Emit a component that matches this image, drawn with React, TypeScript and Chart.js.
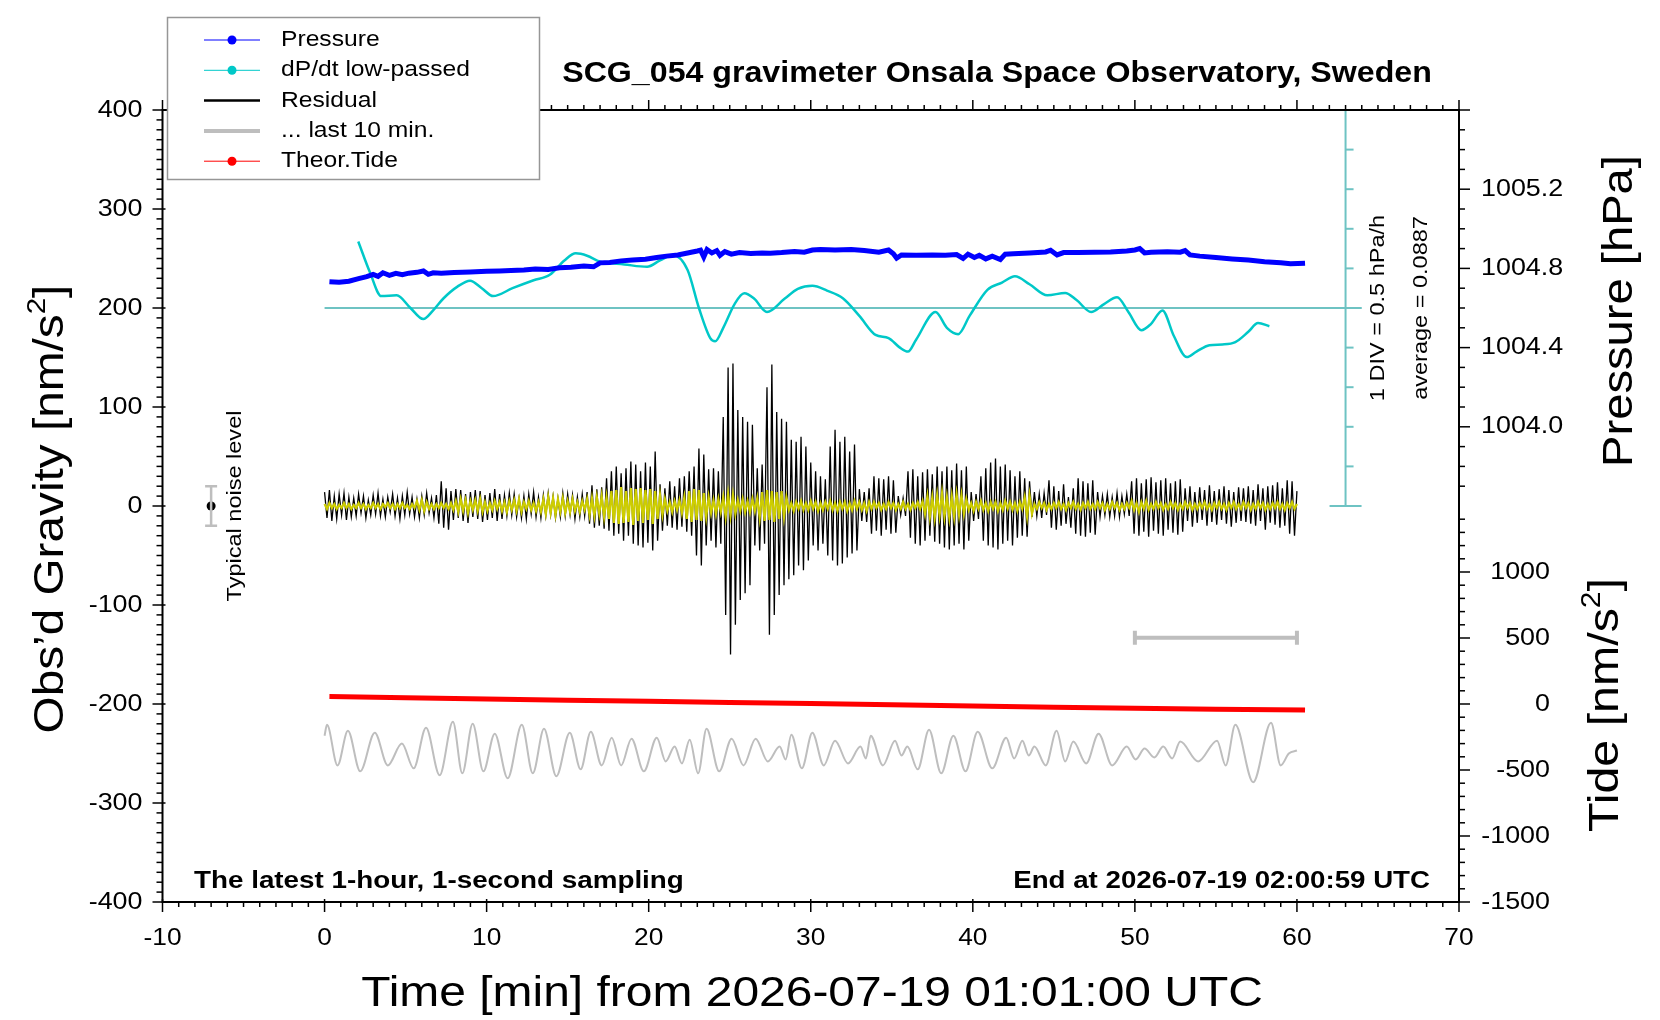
import { useEffect, useRef } from 'react';
import { Chart, registerables } from 'chart.js';

Chart.register(...registerables);

// residual traces: one value every RES_STEP minutes, from t = 0
const RES_STEP = 0.15;

// Obs'd residual gravity [nm/s2]
const residual = [
  14, -12, 16, -15, 10, -13, 12, -9, 13, -14,
  9, -11, 8, -10, 12, -7, 10, -12, 6, -9,
  11, -8, 13, -10, 7, -11, 9, -6, 12, -10,
  8, -13, 10, -9, 14, -8, 9, -11, 7, -12,
  10, -9, 13, -7, 8, -12, 11,
  -18, 25, -22, 18, -24, 15,
  -14, 17, -12, 16, -15, 12, -17, 14, -11, 16, -13, 15, -16, 11, -14, 13, -12, 17, -15, 12, -13,
  11, -10, 13, -9, 12, -11, 8, -12, 10, -13,
  12, -8, 14, -11, 9, -12, 11, -10, 13, -9,
  10, -12, 8, -11, 13, -10, 12, -9, 11, -13,
  9, -11, 12, -10, 14,
  -18, 21, -22, 17, -20, 19, -23,
  28, -25, 35, -30, 40, -28, 33, -35, 38, -30, 45,
  -38, 42, -40, 35, -42, 44, -37, 40, -45, 55, -35,
  22, -25, 18, -20, 25, -22, 20, -24, 28, -21, 30, -26, 35, -30, 40,
  -50, 58, -60, 52,
  -40, 37, -35, 38, -42, 35, -38,
  90, -110, 140, -150, 144,
  -120, 97, -95, 90, -88, 85, -80, 82,
  -40, 38, -45, 42, -38,
  120, -130, 143,
  -110, 95, -90, 88, -80, 85,
  -74, 67, -70, 65, -60, 70, -65, 60,
  -55, 44, -40, 35, -45, 30, -38, 27,
  -50, 60, -55, 77, -60, 65, -58, 70, -52, 55, -48, 62, -45,
  17, -15, 14, -16, 18,
  -28, 30, -25, 28, -30, 27, -24, 30, -28, 26, -27,
  10, -9, 8, -10,
  35, -32, 37, -38, 30, -40, 34, -35, 37, -30, 32, -36, 40, -38, 35, -42,
  40, -44, 36, -40, 43, -38, 36, -44, 40, -35,
  14, -15, 12, -13,
  30, -35, 38, -40, 44, -42, 48, -44, 40, -38, 42, -35, 36, -40, 30, -32, 35, -30, 28, -31, 25,
  -11, 14, -10, 12, -12, 13, -9,
  26, -22, 20, -24, 15, -20, 22, -18, 9, -22, 18,
  -28, 28, -30, 25, -31, 23, -27, 26, -29,
  14, -11, 10, -9, 12, -11, 9, -10, 13, -11, 10, -8, 12, -10,
  25, -28, 28, -30, 23, -26, 27, -31, 29, -25, 24, -28, 26, -30, 28, -24, 23, -27, 25, -29, 27, -26,
  18, -15, 20, -21, 14, -17, 19, -14, 16, -20,
  21, -16, 15, -19, 17, -14, 20, -18, 16, -21,
  14, -17, 19, -15, 18, -16, 20,
  -18, 16, -20, 22, -15, 18, -24, 20, -17, 21,
  -19, 24, -22, 18, -20, 26, -28, 25, -30, 15,
];

// band-passed residual (yellow) [nm/s2]
const residualBand = [
  2, -3, 3, -2, 2, -3, 1, -2, 3, -2,
  2, -3, 1, -2, 3, -2, 2, -3, 1, -2,
  3, -2, 2, -3, 2, -1, 3, -2, 2, -3,
  2, -2, 3, -2, 1, -3, 2, -2, 5, -4,
  6, -5, 4, -3, 2, -3, 2, -2, 3, -2,
  2, -3, 3,
  -4, 5, -6, 7, -5, 6, -7, 5, -4, 6,
  -5, 7, -6, 4, -5, 3, -4, 5, -3, 4,
  -5, 4, -6, 5, -4, 6, -5, 7, -6, 4,
  -3, 5, -4, 3, -5, 4, -6, 7, -8, 9,
  -7, 8, -9, 7, -6, 8, -7, 5, -6, 7,
  -5, 4, -6, 5, -4,
  7, -9, 8, -10, 9, -8, 10, -11, 9,
  -13, 15, -17, 16, -18, 19, -17, 15, -16, 18,
  -19, 17, -15, 18, -17, 16, -14, 17, -18, 15,
  -13, 11, -9, 7,
  -5, 4, -6, 5, -4, 6, -7, 9,
  -13, 15, -16, 17, -14, 16, -15, 13, -11, 9,
  -7, 6, -8, 7, -6,
  9, -11, 12, -10, 11, -8,
  6, -5, 7, -6, 5, -6, 7, -5, 8,
  -12, 14, -15, 16, -14, 15, -16, 14, -13, 15, -11, 9,
  -4, 3, -5, 4, -3, 5, -4, 3, -4, 5,
  -3, 4, -5, 3, -4, 4, -3, 5, -4, 3,
  -5, 4, -3, 4, -5, 3, -4, 5, -3, 4,
  -4, 3, -5, 4, -3, 4, -2, 3, -4, 2,
  -3, 4, -2, 3, -4, 2, -3, 4, -3, 2,
  -4, 3, -2, 4, -3, 5,
  -8, 10, -11, 9, -12, 11, -10, 13, -11, 9, -12, 10, -11, 12, -9, 11, -8, 7,
  -4, 3, -5, 4, -3, 5, -4, 3, -5, 4, -3, 4, -5, 3, -4, 5, -3, 4, -4, 3, -5, 4, -3,
  9, -11, 11, -8,
  2, -3, 4, -2, 3, -4, 2, -3, 3, -2,
  4, -3, 2, -4, 3, -2, 4, -3, 2, -4,
  3, -2, 4, -3, 2, -3, 4, -2, 3, -4,
  2, -3, 4, -2, 3, -4, 2, -3, 3, -2,
  5, -4, 3, -6, 4, -3, 5, -4, 2, -3,
  4, -2, 3, -4, 2, -3, 4, -2, 3, -4,
  2, -3, 4, -2, 3, -4, 2, -3, 3, -2,
  4, -3, 2, -4, 3, -2, 4, -3, 2, -4,
  3, -2, 4, -3, 2, -3, 4, -2, 3, -4,
  2, -3, 4, -2, 3, -4, 2, -3, 3, -2,
  4, -3, 2, -4, 3, -2, 4, -3, 2,
];

// air pressure [hPa]
const pressureTime = [
  0.3, 0.9, 1.5, 2.1, 2.6, 3.0, 3.3, 3.6, 4.0, 4.4, 4.8, 5.2, 5.7, 6.1, 6.4, 6.7, 7.2, 8.0, 9.0, 10.0,
  10.8, 11.5, 12.3, 13.0, 13.8, 14.5, 15.2, 16.0, 16.6, 17.0, 17.6, 18.3, 19.0, 19.8, 20.5, 21.1, 21.8, 22.4, 23.0, 23.2,
  23.4, 23.6, 23.9, 24.2, 24.4, 24.7, 25.1, 25.6, 26.3, 27.0, 27.5, 28.2, 29.0, 29.6, 30.1, 30.6, 31.5, 32.5, 33.3, 34.2,
  34.8, 35.1, 35.3, 35.6, 36.5, 37.5, 38.3, 39.0, 39.4, 39.7, 40.1, 40.4, 40.8, 41.2, 41.7, 42.0, 42.5, 43.5, 44.5, 44.8,
  45.2, 45.6, 46.5, 47.5, 48.5, 49.5, 50.0, 50.3, 50.6, 51.0, 52.0, 52.8, 53.1, 53.4, 54.0, 55.0, 56.0, 57.0, 58.0, 59.0,
  59.6, 60.5,
];
const pressure = [
  1004.733, 1004.730, 1004.735, 1004.748, 1004.758, 1004.770, 1004.760, 1004.778, 1004.765, 1004.775,
  1004.768, 1004.776, 1004.780, 1004.787, 1004.770, 1004.778, 1004.776, 1004.779, 1004.782, 1004.785,
  1004.787, 1004.790, 1004.792, 1004.797, 1004.795, 1004.803, 1004.806, 1004.812, 1004.808, 1004.828,
  1004.830, 1004.838, 1004.842, 1004.846, 1004.855, 1004.862, 1004.868, 1004.878, 1004.888, 1004.892,
  1004.858, 1004.895, 1004.878, 1004.890, 1004.866, 1004.885, 1004.872, 1004.880, 1004.875, 1004.878,
  1004.877, 1004.880, 1004.885, 1004.882, 1004.893, 1004.896, 1004.893, 1004.895, 1004.890, 1004.882,
  1004.893, 1004.874, 1004.852, 1004.868, 1004.867, 1004.868, 1004.866, 1004.870, 1004.850, 1004.872,
  1004.855, 1004.866, 1004.848, 1004.862, 1004.845, 1004.872, 1004.874, 1004.878, 1004.883, 1004.892,
  1004.868, 1004.880, 1004.880, 1004.882, 1004.883, 1004.888, 1004.893, 1004.900, 1004.878, 1004.882,
  1004.884, 1004.882, 1004.890, 1004.868, 1004.862, 1004.855, 1004.848, 1004.842, 1004.834, 1004.828,
  1004.823, 1004.826,
];

// low-passed dP/dt [hPa/h]
const dpdtTime = [
  2.08, 2.8, 3.5, 4.45, 5.3, 6.09, 6.7, 7.33, 8.2, 8.98, 9.7, 10.4, 11.6, 12.9, 13.9, 14.8, 15.5, 16.2, 17.0, 18.5,
  19.9, 20.7, 21.5, 22.4, 23.1, 23.8, 24.1, 24.6, 25.3, 25.9, 26.5, 27.3, 28.4, 29.2, 30.1, 31.0, 32.0, 33.0, 34.0, 34.8,
  35.5, 36.0, 36.5, 37.7, 38.4, 39.1, 39.8, 40.9, 41.8, 42.6, 43.5, 44.6, 45.7, 46.4, 47.3, 48.1, 48.9, 49.6, 50.4, 51.0,
  51.7, 52.4, 53.2, 53.8, 54.6, 55.4, 56.2, 57.0, 57.6, 58.3,
];
const dpdt = [
  0.84, 0.45, 0.15, 0.16, 0.0, -0.14, -0.03, 0.12, 0.27, 0.345, 0.25, 0.15, 0.25, 0.35, 0.42, 0.6, 0.69, 0.66, 0.585, 0.55,
  0.52, 0.6, 0.67, 0.48, 0.0, -0.38, -0.42, -0.25, 0.05, 0.185, 0.12, -0.05, 0.12, 0.24, 0.28, 0.22, 0.12, -0.1, -0.34, -0.38,
  -0.5, -0.55, -0.4, -0.05, -0.25, -0.33, -0.1, 0.23, 0.32, 0.4, 0.3, 0.16, 0.19, 0.1, -0.05, 0.05, 0.135, -0.05, -0.28, -0.2,
  -0.03, -0.35, -0.62, -0.55, -0.47, -0.46, -0.43, -0.3, -0.19, -0.23,
];

// theoretical tide [nm/s2]
const tideTime = [0.3, 5, 10, 15, 20, 25, 30, 35, 40, 45, 50, 55, 60.5];
const tide = [57, 48, 38, 29, 20, 11, 3, -6, -15, -24, -32, -40, -46];

// "... last 10 min." trace [nm/s2]
const lastTenTime = [
  0.0, 0.15, 0.8, 1.44, 2.2, 3.1, 3.9, 4.77, 5.5, 6.26, 7.1, 7.92, 8.5, 9.14, 9.8, 10.5, 11.3, 12.17, 12.85, 13.54,
  14.3, 15.13, 15.8, 16.43, 17.1, 17.72, 18.3, 18.94, 19.7, 20.5, 21.05, 21.6, 22.05, 22.53, 23.05, 23.57, 24.35, 25.12, 25.85, 26.6,
  27.35, 28.08, 28.45, 28.8, 29.45, 30.1, 30.8, 31.5, 32.3, 33.07, 33.4, 33.7, 34.45, 35.2, 35.6, 35.96, 36.6, 37.3, 38.05, 38.8,
  39.55, 40.3, 41.2, 42.06, 42.55, 43.06, 43.45, 43.8, 44.5, 45.17, 45.7, 46.2, 47.0, 47.76, 48.6, 49.5, 50.05, 50.6, 51.2, 51.75,
  52.3, 52.8, 53.9, 55.07, 55.6, 56.2, 57.3, 58.4, 59.0, 59.5, 60.0,
];
const lastTen = [
  -232, -221, -262, -227, -268, -229, -262, -240, -265, -224, -272, -218, -270, -220, -268, -230, -275, -221, -270, -225,
  -273, -229, -266, -228, -262, -234, -262, -235, -268, -234, -258, -243, -260, -236, -270, -225, -268, -235, -262, -235,
  -258, -243, -256, -231, -265, -229, -262, -237, -260, -243, -255, -232, -262, -237, -252, -243, -266, -226, -270, -232,
  -268, -228, -265, -234, -255, -237, -252, -243, -262, -227, -258, -238, -260, -230, -262, -243, -256, -245, -254, -243,
  -255, -238, -258, -237, -262, -221, -279, -219, -262, -250, -247,
];

// axes
const xTicks = [-10, 0, 10, 20, 30, 40, 50, 60, 70];
const gravityTicks = [400, 300, 200, 100, 0, -100, -200, -300, -400];
const pressureTicks = [1004.0, 1004.4, 1004.8, 1005.2];
const tideTicks = [1000, 500, 0, -500, -1000, -1500];
const divTicks = [-2.5, -2, -1.5, -1, -0.5, 0, 0.5, 1, 1.5, 2, 2.5];

// markers
const noiseAt = -7;
const noiseLevel = 20;
const windowBar = [50, 60];
const windowBarLevel = -133;
const divAxisAt = 63;
const divLineEnd = 64;

const FONT = '"Liberation Sans", Arial, Helvetica, sans-serif';
const SX = 1.12; // the original lettering runs a bit wide

const BLUE = 'rgb(0,0,255)';
const CYAN = 'rgb(0,200,200)';
const CYAN_AXIS = 'rgb(110,195,195)';
const YELLOW = 'rgb(205,205,0)';
const GREY = 'rgb(190,190,190)';

const legendItems = [
  { label: 'Pressure', color: BLUE, width: 1, dot: true },
  { label: 'dP/dt low-passed', color: CYAN, width: 1, dot: true },
  { label: 'Residual', color: '#000', width: 2.5, dot: false },
  { label: '... last 10 min.', color: GREY, width: 4, dot: false },
  { label: 'Theor.Tide', color: 'rgb(255,0,0)', width: 1, dot: true },
];

const font = (size: number, bold = false) => `${bold ? 'bold ' : ''}${size}px ${FONT}`;

function drawText(ctx: any, text: string, x: number, y: number, size: number, opts: any = {}) {
  const { bold = false, align = 'left', baseline = 'alphabetic', rotate = 0 } = opts;
  ctx.save();
  ctx.translate(x, y);
  if (rotate) ctx.rotate(rotate);
  ctx.scale(SX, 1);
  ctx.font = font(size, bold);
  ctx.fillStyle = '#000';
  ctx.textAlign = align;
  ctx.textBaseline = baseline;
  ctx.fillText(text, 0, 0);
  ctx.restore();
}

// font size that makes the text span the given width
function fitSize(ctx: any, text: string, width: number, bold = false) {
  ctx.save();
  ctx.font = font(100, bold);
  const w = ctx.measureText(text).width;
  ctx.restore();
  return (100 * width) / (w * SX);
}

// text with a superscript part, centred on (x, y) baseline
function drawRich(ctx: any, parts: [string, boolean][], x: number, y: number, width: number, rotate: number) {
  ctx.save();
  let w100 = 0;
  parts.forEach(([t, sup]) => {
    ctx.font = font(sup ? 62 : 100);
    w100 += ctx.measureText(t).width;
  });
  const size = (100 * width) / (w100 * SX);
  ctx.translate(x, y);
  ctx.rotate(rotate);
  ctx.scale(SX, 1);
  ctx.fillStyle = '#000';
  ctx.textAlign = 'left';
  ctx.textBaseline = 'alphabetic';
  let cx = -(w100 * size) / 200;
  parts.forEach(([t, sup]) => {
    ctx.font = font(sup ? size * 0.62 : size);
    ctx.fillText(t, cx, sup ? -size * 0.42 : 0);
    cx += ctx.measureText(t).width;
  });
  ctx.restore();
}

const framePlugin = {
  id: 'gravFrame',
  afterDraw(chart: any) {
    const { ctx, chartArea: a, scales } = chart;
    const sx = scales.x;
    const sy = scales.y;
    const sp = scales.yP;
    const st = scales.yT;
    const sd = scales.yD;
    const seg = (x1: number, y1: number, x2: number, y2: number) => {
      ctx.beginPath();
      ctx.moveTo(x1, y1);
      ctx.lineTo(x2, y2);
      ctx.stroke();
    };
    ctx.save();

    // dP/dt division axis
    const dx = sx.getPixelForValue(divAxisAt);
    ctx.strokeStyle = CYAN_AXIS;
    ctx.lineWidth = 2;
    seg(dx, sd.getPixelForValue(-2.5), dx, sd.getPixelForValue(2.5));
    divTicks.forEach((d) => {
      const py = sd.getPixelForValue(d);
      if (Math.abs(d) === 2.5) seg(dx - 16, py, dx + 16, py);
      else seg(dx, py, dx + 8, py);
    });
    drawText(ctx, '1 DIV = 0.5 hPa/h', dx + 33, sd.getPixelForValue(0), 21, { align: 'center', baseline: 'middle', rotate: -Math.PI / 2 });
    drawText(ctx, 'average = 0.0887', dx + 76, sd.getPixelForValue(0), 21, { align: 'center', baseline: 'middle', rotate: -Math.PI / 2 });

    // noise level label
    drawText(ctx, 'Typical noise level', sx.getPixelForValue(noiseAt) + 24, sy.getPixelForValue(0), 21, { align: 'center', baseline: 'middle', rotate: -Math.PI / 2 });

    // frame
    ctx.strokeStyle = '#000';
    ctx.lineWidth = 2;
    ctx.strokeRect(a.left, a.top, a.right - a.left, a.bottom - a.top);

    // ticks
    ctx.lineWidth = 1.5;
    for (let g = -400; g <= 400; g += 10) {
      const py = sy.getPixelForValue(g);
      if (g % 100 === 0) seg(a.left - 10, py, a.left + 3, py);
      else seg(a.left - 6, py, a.left, py);
    }
    for (let m = -10; m <= 70; m += 1) {
      const px = sx.getPixelForValue(m);
      if (m % 10 === 0) {
        seg(px, a.bottom + 10, px, a.bottom - 3);
        seg(px, a.top - 10, px, a.top);
      } else {
        seg(px, a.bottom + 5, px, a.bottom);
        seg(px, a.top - 5, px, a.top);
      }
    }
    for (let k = 10037; k <= 10056; k += 1) {
      const py = sp.getPixelForValue(k / 10);
      seg(a.right, py, a.right + ((k - 10040) % 4 === 0 ? 11 : 6), py);
    }
    for (let t = -1500; t <= 1400; t += 100) {
      const py = st.getPixelForValue(t);
      seg(a.right, py, a.right + (t % 500 === 0 ? 11 : 6), py);
    }

    // tick labels
    gravityTicks.forEach((g) => drawText(ctx, String(g), a.left - 20, sy.getPixelForValue(g), 24, { align: 'right', baseline: 'middle' }));
    xTicks.forEach((m) => drawText(ctx, String(m), sx.getPixelForValue(m), a.bottom + 43, 23.5, { align: 'center' }));
    pressureTicks.forEach((p) => drawText(ctx, p.toFixed(1), a.right + 22, sp.getPixelForValue(p), 24, { baseline: 'middle' }));
    tideTicks.forEach((t) => drawText(ctx, String(t), a.right + 91, st.getPixelForValue(t), 24, { align: 'right', baseline: 'middle' }));

    // axis titles
    const xTitle = 'Time [min] from 2026-07-19 01:01:00 UTC';
    drawText(ctx, xTitle, 812, 1006, fitSize(ctx, xTitle, 902), { align: 'center' });
    drawRich(ctx, [['Obs’d Gravity [nm/s', false], ['2', true], [']', false]], 63, 509, 449, -Math.PI / 2);
    drawRich(ctx, [['Pressure [hPa]', false]], 1632, 311, 312, -Math.PI / 2);
    drawRich(ctx, [['Tide [nm/s', false], ['2', true], [']', false]], 1618, 705, 254, -Math.PI / 2);

    // headings
    const title = 'SCG_054 gravimeter Onsala Space Observatory, Sweden';
    drawText(ctx, title, 997, 82, fitSize(ctx, title, 870, true), { bold: true, align: 'center' });
    const left = 'The latest 1-hour, 1-second sampling';
    drawText(ctx, left, 194, 888, fitSize(ctx, left, 490, true), { bold: true });
    const right = 'End at 2026-07-19 02:00:59 UTC';
    drawText(ctx, right, 1430, 888, fitSize(ctx, right, 417, true), { bold: true, align: 'right' });

    // legend
    ctx.fillStyle = '#fff';
    ctx.fillRect(167.5, 17.5, 372, 162);
    ctx.strokeStyle = 'rgb(150,150,150)';
    ctx.lineWidth = 1.5;
    ctx.strokeRect(167.5, 17.5, 372, 162);
    legendItems.forEach((item, i) => {
      const ly = 40 + i * 30.3;
      ctx.strokeStyle = item.color;
      ctx.lineWidth = item.width;
      seg(204, ly, 260, ly);
      if (item.dot) {
        ctx.fillStyle = item.color;
        ctx.beginPath();
        ctx.arc(232, ly, 4.5, 0, Math.PI * 2);
        ctx.fill();
      }
      drawText(ctx, item.label, 281, ly, 22, { baseline: 'middle' });
    });

    ctx.restore();
  },
};

const pts = (xs: number[], ys: number[]) => xs.map((x, i) => ({ x, y: ys[i] }));

export default function App() {
  const chartRef = useRef<HTMLCanvasElement>(null);
  const chartInstance = useRef<Chart | null>(null);

  useEffect(() => {
    if (!chartRef.current) return;
    if (chartInstance.current) chartInstance.current.destroy();
    const ctx = chartRef.current.getContext('2d');
    if (!ctx) return;

    const datasets: any[] = [
      {
        label: 'band',
        data: residualBand.map((y, i) => ({ x: i * RES_STEP, y })),
        borderColor: YELLOW,
        borderWidth: 2.2,
        yAxisID: 'y',
      },
      {
        label: 'Residual',
        data: residual.map((y, i) => ({ x: i * RES_STEP, y })),
        borderColor: '#000',
        borderWidth: 1.3,
        yAxisID: 'y',
      },
      {
        label: 'Pressure',
        data: pts(pressureTime, pressure),
        borderColor: BLUE,
        borderWidth: 5,
        yAxisID: 'yP',
      },
      {
        label: 'dP/dt low-passed',
        data: pts(dpdtTime, dpdt),
        borderColor: CYAN,
        borderWidth: 2.5,
        cubicInterpolationMode: 'monotone',
        yAxisID: 'yD',
      },
      {
        label: 'dP/dt zero',
        data: [{ x: 0, y: 0 }, { x: divLineEnd, y: 0 }],
        borderColor: CYAN_AXIS,
        borderWidth: 2,
        yAxisID: 'yD',
      },
      {
        label: 'Theor.Tide',
        data: pts(tideTime, tide),
        borderColor: 'rgb(255,0,0)',
        borderWidth: 5,
        yAxisID: 'yT',
      },
      {
        label: '... last 10 min.',
        data: pts(lastTenTime, lastTen),
        borderColor: GREY,
        borderWidth: 2,
        cubicInterpolationMode: 'monotone',
        yAxisID: 'y',
      },
      {
        label: 'window',
        data: windowBar.map((x) => ({ x, y: windowBarLevel })),
        borderColor: GREY,
        borderWidth: 4,
        pointStyle: 'line',
        rotation: 90,
        pointRadius: 7,
        pointBorderColor: GREY,
        pointBorderWidth: 4,
        yAxisID: 'y',
      },
      {
        label: 'noise',
        data: [{ x: noiseAt, y: -noiseLevel }, { x: noiseAt, y: noiseLevel }],
        borderColor: GREY,
        borderWidth: 2.5,
        pointStyle: 'line',
        pointRadius: 6,
        pointBorderColor: GREY,
        pointBorderWidth: 2.5,
        yAxisID: 'y',
      },
      {
        label: 'noise dot',
        data: [{ x: noiseAt, y: 0 }],
        showLine: false,
        pointRadius: 4.5,
        pointBackgroundColor: '#000',
        pointBorderColor: '#000',
        pointBorderWidth: 0,
        yAxisID: 'y',
      },
    ];

    chartInstance.current = new Chart(ctx, {
      type: 'line',
      data: { datasets },
      options: {
        animation: false,
        responsive: true,
        maintainAspectRatio: false,
        layout: { padding: { left: 162.5, right: 201, top: 110, bottom: 118 } },
        elements: { point: { radius: 0 }, line: { tension: 0 } },
        plugins: {
          legend: { display: false },
          tooltip: { enabled: false },
          title: { display: false },
        },
        scales: {
          x: { type: 'linear', min: -10, max: 70, display: false },
          y: { type: 'linear', min: -400, max: 400, display: false },
          yP: { type: 'linear', min: 1001.6, max: 1005.6, display: false },
          yT: { type: 'linear', min: -1500, max: 4500, display: false },
          yD: { type: 'linear', min: -7.5, max: 2.5, display: false },
        },
      } as any,
      plugins: [framePlugin],
    });

    return () => {
      if (chartInstance.current) {
        chartInstance.current.destroy();
        chartInstance.current = null;
      }
    };
  }, []);

  return (
    <div style={{ position: 'fixed', left: 0, top: 0, width: 1660, height: 1020, background: '#fff' }}>
      <canvas ref={chartRef} />
    </div>
  );
}
